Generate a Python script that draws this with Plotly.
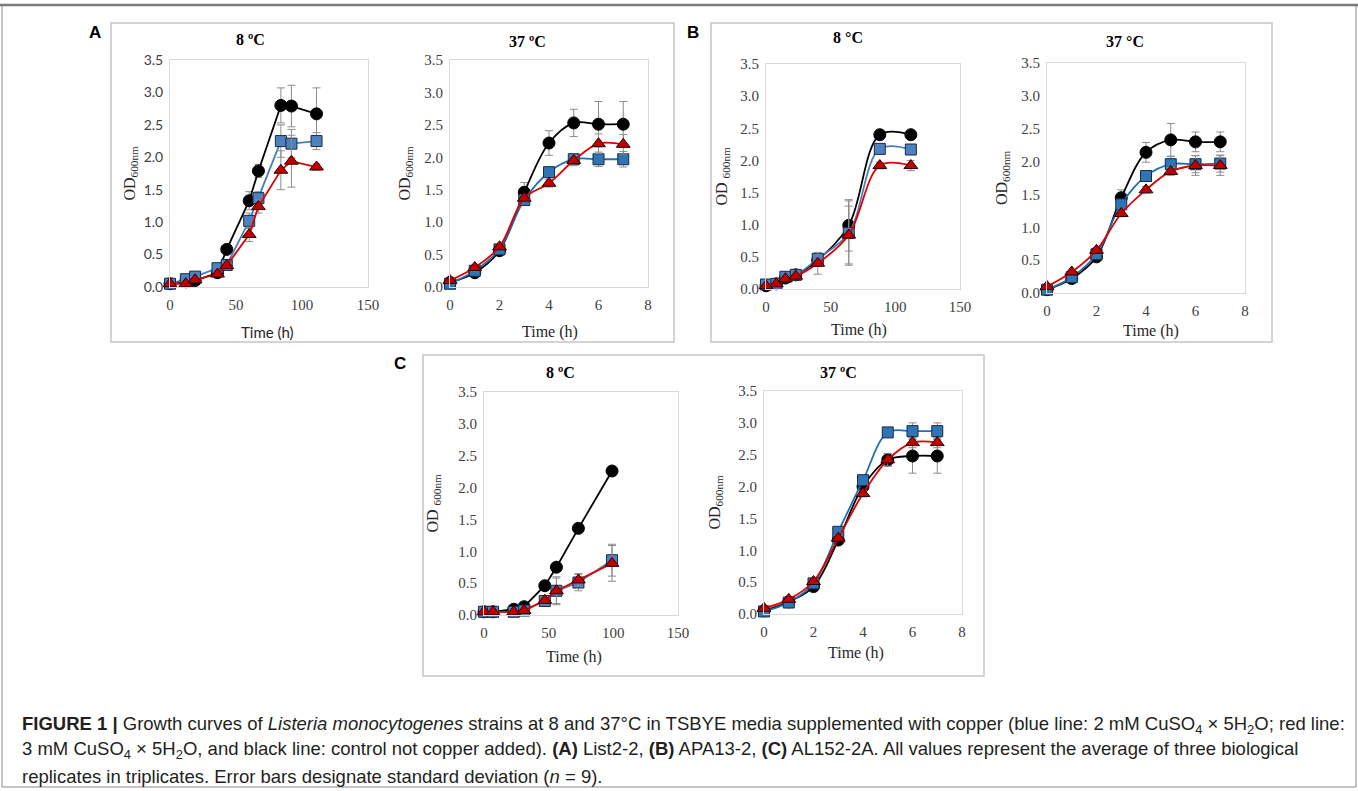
import plotly.graph_objects as go

W, H = 1358, 791

# ---------------- data ----------------
# Panel A (List2-2)
time_A8 = [0, 12, 19, 36, 43, 60, 67, 84, 92, 111]
ctrl_A8 = [0.05, 0.08, 0.10, 0.22, 0.58, 1.33, 1.79, 2.80, 2.79, 2.67]
cu2_A8 = [0.05, 0.12, 0.16, 0.29, 0.34, 1.02, 1.37, 2.25, 2.21, 2.25]
cu3_A8 = [0.05, 0.05, 0.11, 0.20, 0.33, 0.81, 1.24, 1.80, 1.94, 1.85]
sd_ctrl_A8 = [0.02, 0.02, 0.02, 0.03, 0.05, 0.14, 0.10, 0.27, 0.32, 0.40]
sd_cu2_A8 = [0.02, 0.02, 0.02, 0.03, 0.05, 0.12, 0.10, 0.25, 0.22, 0.13]
sd_cu3_A8 = [0.02, 0.02, 0.02, 0.03, 0.05, 0.11, 0.10, 0.30, 0.40, 0.05]

time_A37 = [0, 1, 2, 3, 4, 5, 6, 7]
ctrl_A37 = [0.07, 0.22, 0.56, 1.46, 2.22, 2.53, 2.51, 2.51]
cu2_A37 = [0.05, 0.25, 0.58, 1.34, 1.77, 1.97, 1.97, 1.97]
cu3_A37 = [0.10, 0.30, 0.62, 1.37, 1.60, 1.95, 2.21, 2.20]
sd_ctrl_A37 = [0.02, 0.03, 0.04, 0.15, 0.19, 0.21, 0.35, 0.35]
sd_cu2_A37 = [0.02, 0.03, 0.04, 0.05, 0.08, 0.06, 0.11, 0.12]
sd_cu3_A37 = [0.02, 0.05, 0.04, 0.05, 0.06, 0.08, 0.15, 0.15]

# Panel B (APA13-2)
time_B8 = [0, 8, 15, 23, 40, 64, 88, 112]
ctrl_B8 = [0.05, 0.08, 0.17, 0.22, 0.45, 0.99, 2.40, 2.40]
cu2_B8 = [0.07, 0.08, 0.19, 0.22, 0.47, 0.87, 2.18, 2.17]
cu3_B8 = [0.05, 0.08, 0.16, 0.20, 0.40, 0.84, 1.92, 1.92]
sd_ctrl_B8 = [0.02, 0.02, 0.03, 0.03, 0.10, 0.40, 0.05, 0.05]
sd_cu2_B8 = [0.02, 0.02, 0.03, 0.03, 0.08, 0.50, 0.05, 0.05]
sd_cu3_B8 = [0.02, 0.02, 0.03, 0.03, 0.17, 0.45, 0.05, 0.08]

time_B37 = [0, 1, 2, 3, 4, 5, 6, 7]
ctrl_B37 = [0.05, 0.22, 0.55, 1.45, 2.14, 2.33, 2.30, 2.30]
cu2_B37 = [0.05, 0.24, 0.59, 1.35, 1.78, 1.96, 1.96, 1.97]
cu3_B37 = [0.10, 0.32, 0.65, 1.21, 1.57, 1.85, 1.94, 1.94]
sd_ctrl_B37 = [0.02, 0.03, 0.04, 0.12, 0.15, 0.25, 0.15, 0.15]
sd_cu2_B37 = [0.02, 0.03, 0.04, 0.05, 0.05, 0.12, 0.13, 0.13]
sd_cu3_B37 = [0.02, 0.03, 0.04, 0.05, 0.05, 0.06, 0.15, 0.15]

# Panel C (AL152-2A)
time_C8 = [0, 7, 23, 31, 47, 56, 73, 99]
ctrl_C8 = [0.05, 0.05, 0.09, 0.13, 0.46, 0.75, 1.36, 2.26]
cu2_C8 = [0.05, 0.05, 0.05, 0.07, 0.22, 0.38, 0.51, 0.86]
cu3_C8 = [0.05, 0.05, 0.05, 0.07, 0.23, 0.38, 0.55, 0.81]
sd_ctrl_C8 = [0.01, 0.01, 0.01, 0.01, 0.03, 0.03, 0.03, 0.03]
sd_cu2_C8 = [0.01, 0.01, 0.01, 0.02, 0.05, 0.22, 0.13, 0.25]
sd_cu3_C8 = [0.01, 0.01, 0.01, 0.02, 0.05, 0.20, 0.10, 0.28]

time_C37 = [0, 1, 2, 3, 4, 5, 6, 7]
ctrl_C37 = [0.05, 0.19, 0.43, 1.16, 2.00, 2.42, 2.48, 2.48]
cu2_C37 = [0.04, 0.18, 0.48, 1.29, 2.10, 2.85, 2.87, 2.87]
cu3_C37 = [0.09, 0.23, 0.51, 1.19, 1.89, 2.42, 2.69, 2.69]
sd_ctrl_C37 = [0.02, 0.02, 0.03, 0.04, 0.05, 0.10, 0.27, 0.27]
sd_cu2_C37 = [0.02, 0.02, 0.03, 0.04, 0.05, 0.05, 0.13, 0.13]
sd_cu3_C37 = [0.02, 0.02, 0.03, 0.04, 0.05, 0.10, 0.08, 0.08]

y_ticks = [0, 0.5, 1.0, 1.5, 2.0, 2.5, 3.0, 3.5]

# ---------------- layout helpers ----------------
def fx(p):
    return p / W


def fy(p):
    return 1 - p / H


SERIF = "Liberation Serif, Times New Roman, serif"
SANS = "Liberation Sans, Arial, sans-serif"
CAL = "Lato, Open Sans, sans-serif"

LIGHT_BLUE = ("#4a7ebb", "#4f81bd")
DARK_BLUE = ("#1f6fb5", "#2e75b6")

panels = [
    dict(t=time_A8, c=ctrl_A8, b=cu2_A8, r=cu3_A8, sc=sd_ctrl_A8, sb=sd_cu2_A8, sr=sd_cu3_A8,
         box=(170, 368, 60, 287), xmax=150, dtick=50, shape="linear", blue=LIGHT_BLUE,
         yfont=CAL, yfs=14, title="8 ºC", txy=(250, 40), ylx=130, xl=(267, 332), xlfont=CAL,
         xlfs=15, ylab="OD<sub>600nm</sub>"),
    dict(t=time_A37, c=ctrl_A37, b=cu2_A37, r=cu3_A37, sc=sd_ctrl_A37, sb=sd_cu2_A37, sr=sd_cu3_A37,
         box=(450, 648, 60, 287), xmax=8, dtick=2, shape="spline", blue=DARK_BLUE,
         yfont=SERIF, yfs=15, title="37 ºC", txy=(527, 41), ylx=405, xl=(550, 332), xlfont=SERIF,
         xlfs=16, ylab="OD<sub>600nm</sub>"),
    dict(t=time_B8, c=ctrl_B8, b=cu2_B8, r=cu3_B8, sc=sd_ctrl_B8, sb=sd_cu2_B8, sr=sd_cu3_B8,
         box=(766, 960, 64, 289), xmax=150, dtick=50, shape="spline", blue=LIGHT_BLUE,
         yfont=SERIF, yfs=15, title="8 °C", txy=(848, 38), ylx=722, xl=(859, 330), xlfont=SERIF,
         xlfs=16, ylab="OD <sub>600nm</sub>"),
    dict(t=time_B37, c=ctrl_B37, b=cu2_B37, r=cu3_B37, sc=sd_ctrl_B37, sb=sd_cu2_B37, sr=sd_cu3_B37,
         box=(1047, 1245, 63, 293), xmax=8, dtick=2, shape="spline", blue=DARK_BLUE,
         yfont=SERIF, yfs=15, title="37 °C", txy=(1125, 42), ylx=1003, xl=(1151, 331), xlfont=SERIF,
         xlfs=16, ylab="OD<sub>600nm</sub>"),
    dict(t=time_C8, c=ctrl_C8, b=cu2_C8, r=cu3_C8, sc=sd_ctrl_C8, sb=sd_cu2_C8, sr=sd_cu3_C8,
         box=(484, 678, 392, 615), xmax=150, dtick=50, shape="linear", blue=LIGHT_BLUE,
         yfont=SERIF, yfs=15, title="8 ºC", txy=(560, 372), ylx=433, xl=(574, 657), xlfont=SERIF,
         xlfs=16, ylab="OD <sub>600nm</sub>"),
    dict(t=time_C37, c=ctrl_C37, b=cu2_C37, r=cu3_C37, sc=sd_ctrl_C37, sb=sd_cu2_C37, sr=sd_cu3_C37,
         box=(764, 962, 391, 614), xmax=8, dtick=2, shape="spline", blue=DARK_BLUE,
         yfont=SERIF, yfs=15, title="37 ºC", txy=(838, 372), ylx=715, xl=(856, 653), xlfont=SERIF,
         xlfs=16, ylab="OD<sub>600nm</sub>"),
]

fig = go.Figure()
annotations = []
layout_axes = {}
ERR = "#8c8c8c"

for i, p in enumerate(panels, start=1):
    xa = "x" if i == 1 else f"x{i}"
    ya = "y" if i == 1 else f"y{i}"
    xkey = "xaxis" if i == 1 else f"xaxis{i}"
    ykey = "yaxis" if i == 1 else f"yaxis{i}"
    x0, x1, y0, y1 = p["box"]

    series = [
        (p["c"], p["sc"], "circle", "#000000", "#000000", "#000000", 12),
        (p["b"], p["sb"], "square", p["blue"][0], p["blue"][1], "#1a2a44", 11),
        (p["r"], p["sr"], "triangle-up", "#e00000", "#c00000", "#2a0000", 12),
    ]
    for vals, sd, sym, lc, fc, oc, ms in series:
        fig.add_trace(go.Scatter(
            x=p["t"], y=vals, xaxis=xa, yaxis=ya, mode="lines+markers",
            line=dict(color=lc, width=1.8, shape=p["shape"]),
            marker=dict(symbol=sym, size=ms, color=fc, line=dict(color=oc, width=1)),
            error_y=dict(type="data", array=sd, visible=True, color=ERR, thickness=1, width=4),
            cliponaxis=False, showlegend=False, hoverinfo="skip",
        ))

    layout_axes[xkey] = dict(
        domain=[fx(x0), fx(x1)], anchor=ya, range=[0, p["xmax"]], dtick=p["dtick"], tick0=0,
        showgrid=False, zeroline=False, showline=True, mirror=True, linecolor="#d9d9d9",
        linewidth=1, ticks="", ticklabelstandoff=4, automargin=False,
        tickfont=dict(family=SERIF, size=15, color="#404040"), fixedrange=True,
    )
    layout_axes[ykey] = dict(
        domain=[fy(y1), fy(y0)], anchor=xa, range=[0, 3.5], tickvals=y_ticks,
        tickformat=".1f", showgrid=False, zeroline=False, showline=True, mirror=True,
        linecolor="#d9d9d9", linewidth=1, ticks="", ticklabelstandoff=3, automargin=False,
        tickfont=dict(family=p["yfont"], size=p["yfs"], color="#404040"), fixedrange=True,
    )

    annotations.append(dict(
        text=f"<b>{p['title']}</b>", x=fx(p["txy"][0]), y=fy(p["txy"][1]), xref="paper",
        yref="paper", showarrow=False, xanchor="center", yanchor="middle",
        font=dict(family=SERIF, size=16, color="#000000")))
    annotations.append(dict(
        text=p["ylab"], x=fx(p["ylx"]), y=fy((y0 + y1) / 2), xref="paper", yref="paper",
        showarrow=False, textangle=-90, xanchor="center", yanchor="middle",
        font=dict(family=SERIF, size=16, color="#262626")))
    annotations.append(dict(
        text="Time (h)", x=fx(p["xl"][0]), y=fy(p["xl"][1]), xref="paper", yref="paper",
        showarrow=False, xanchor="center", yanchor="middle",
        font=dict(family=p["xlfont"], size=p["xlfs"], color="#262626")))

# panel letters
for letter, (lx, ly) in {"A": (95, 33), "B": (693, 33), "C": (400, 363)}.items():
    annotations.append(dict(
        text=f"<b>{letter}</b>", x=fx(lx), y=fy(ly), xref="paper", yref="paper",
        showarrow=False, xanchor="center", yanchor="middle",
        font=dict(family=SANS, size=17, color="#000000")))

# caption
caption_lines = [
    "<b>FIGURE 1 |</b> Growth curves of <i>Listeria monocytogenes</i> strains at 8 and 37°C in TSBYE media "
    "supplemented with copper (blue line: 2 mM CuSO<sub>4</sub> × 5H<sub>2</sub>O; red line:",
    "3 mM CuSO<sub>4</sub> × 5H<sub>2</sub>O, and black line: control not copper added). <b>(A)</b> List2-2, "
    "<b>(B)</b> APA13-2, <b>(C)</b> AL152-2A. All values represent the average of three biological",
    "replicates in triplicates. Error bars designate standard deviation (<i>n</i> = 9).",
]
for k, (line, cy) in enumerate(zip(caption_lines, [725, 750, 776])):
    annotations.append(dict(
        text=line, x=fx(20), y=fy(cy), xref="paper", yref="paper", showarrow=False,
        xanchor="left", yanchor="middle", align="left",
        font=dict(family=SANS, size=18.5, color="#231f20")))

shapes = [
    # outer figure frame
    dict(type="rect", xref="paper", yref="paper", x0=fx(2), x1=fx(1356), y0=fy(787), y1=fy(5),
         line=dict(color="#8a8a8a", width=1)),
    dict(type="line", xref="paper", yref="paper", x0=0, x1=1, y0=fy(5), y1=fy(5),
         line=dict(color="#7a7a7a", width=2.5)),
    # panel boxes
    dict(type="rect", xref="paper", yref="paper", x0=fx(111), x1=fx(674), y0=fy(342), y1=fy(23),
         line=dict(color="#c6c6c6", width=1.5)),
    dict(type="rect", xref="paper", yref="paper", x0=fx(711), x1=fx(1272), y0=fy(342), y1=fy(23),
         line=dict(color="#c6c6c6", width=1.5)),
    dict(type="rect", xref="paper", yref="paper", x0=fx(423), x1=fx(984), y0=fy(676), y1=fy(355),
         line=dict(color="#c6c6c6", width=1.5)),
]

fig.update_layout(
    width=W, height=H, autosize=False,
    margin=dict(l=0, r=0, t=0, b=0, pad=0, autoexpand=False),
    paper_bgcolor="white", plot_bgcolor="white",
    annotations=annotations, shapes=shapes,
    **layout_axes,
)

fig.write_html(
    "out.html",
    config={"displayModeBar": False, "staticPlot": True},
    post_script=(
        "document.documentElement.style.margin='0';document.body.style.margin='0';"
        "document.body.style.padding='0';document.documentElement.style.overflow='hidden';"
        "document.body.style.overflow='hidden';"
    ),
)
